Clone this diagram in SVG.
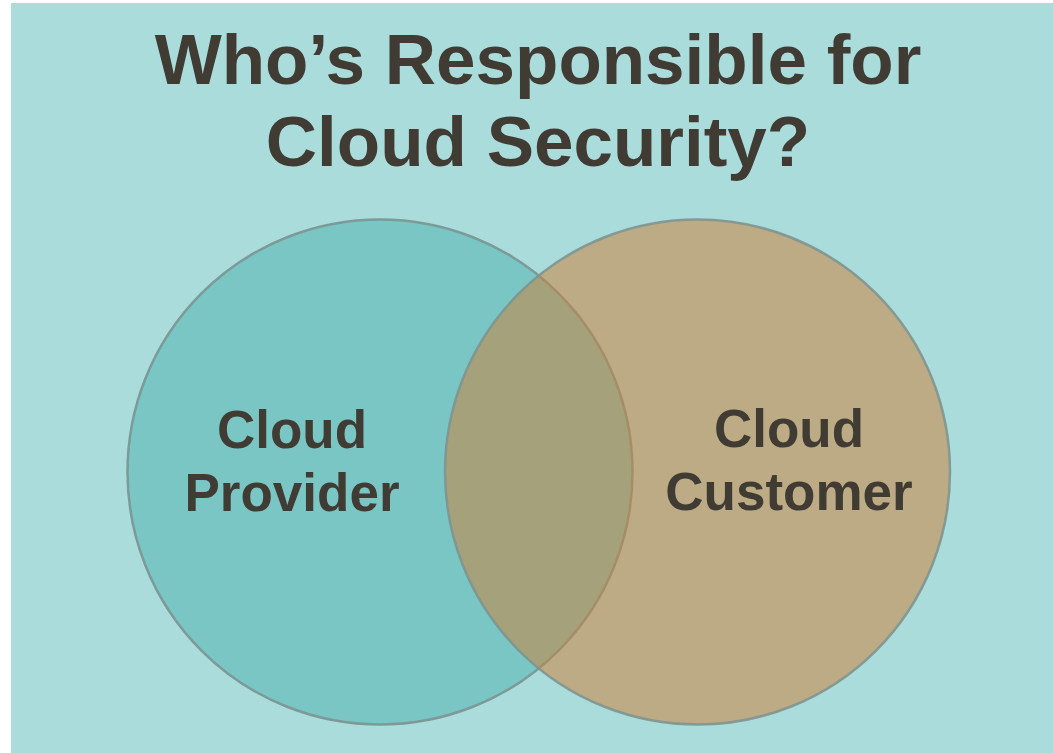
<svg xmlns="http://www.w3.org/2000/svg" width="1053" height="753" viewBox="0 0 1053 753">
  <style>
    .t { font-family: "Liberation Sans", Arial, sans-serif; font-weight: bold; fill: #403C34; text-anchor: middle; }
    .title { font-size: 71px; }
    .lbl { font-size: 53px; }
  </style>
  <rect x="0" y="0" width="1053" height="753" fill="#FFFFFF"/>
  <rect x="11" y="3" width="1042" height="750" fill="#ABDCDC"/>
  <g id="title">
    <text class="t title" x="538" y="84">Who’s Responsible for</text>
    <text class="t title" x="538" y="166">Cloud Security?</text>
  </g>
  <g id="provider">
    <circle cx="380" cy="472" r="252.5" fill="#79C6C4" stroke="#7C9A98" stroke-width="2.5"/>
  </g>
  <g id="customer">
    <circle cx="697.5" cy="472" r="252.5" fill="#CA833E" fill-opacity="0.55" stroke="#7E9590" stroke-opacity="0.9" stroke-width="2.5"/>
  </g>
  <g id="labels">
    <text class="t lbl" x="292" y="448">Cloud</text>
    <text class="t lbl" x="292" y="511">Provider</text>
    <text class="t lbl" x="789" y="447">Cloud</text>
    <text class="t lbl" x="789" y="510">Customer</text>
  </g>
  <g id="connectors"></g>
</svg>
